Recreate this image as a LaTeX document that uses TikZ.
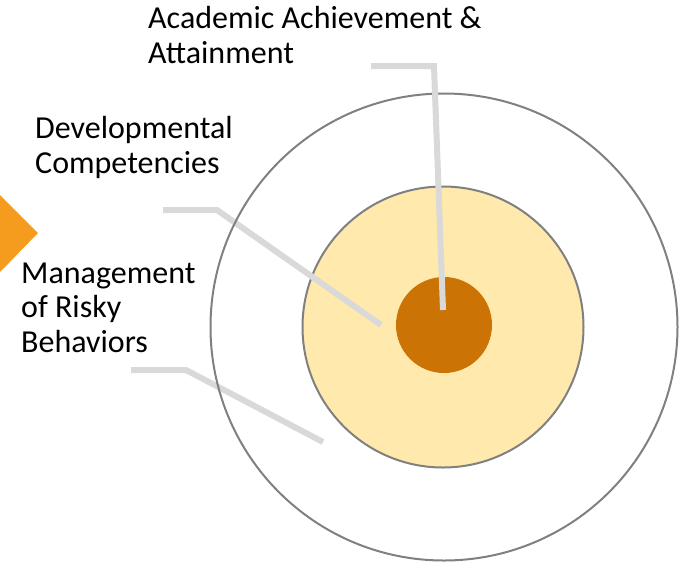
\documentclass[tikz,border=0pt]{standalone}
\usepackage{fontspec}
\setmainfont{Carlito}
\definecolor{ringgray}{HTML}{808080}
\definecolor{leadgray}{HTML}{D9D9D9}
\definecolor{palegold}{HTML}{FFE9AD}
\definecolor{darkgold}{HTML}{CC7306}
\definecolor{chevron}{HTML}{F59B1E}
\begin{document}
\begin{tikzpicture}[x=1pt,y=-1pt,
  ring/.style={circle, inner sep=0pt, outer sep=0pt, draw=ringgray, line width=2pt},
  leader/.style={draw=leadgray, line width=6pt},
  lbl/.style={anchor=base west, align=left, inner sep=0pt, font=\fontsize{32}{34.5}\selectfont}]
\useasboundingbox (0,0) rectangle (683,563);
\fill[chevron] (0,195) -- (38,233) -- (0,272) -- cycle;
\node[ring, fill=palegold, minimum size=281pt] (mid) at (443,327){};
\node[circle, inner sep=0pt, fill=darkgold, minimum size=96pt] (core) at (444,325){};
\coordinate (devA) at (163,210);
\coordinate (devB) at (217,210);
\coordinate (devC) at (381,325);
\coordinate (manA) at (131,370);
\coordinate (manB) at (186,370);
\coordinate (manC) at (323,442);
\draw[leader](devA) -- (devB) -- (devC);
\draw[leader](manA) -- (manB) -- (manC);
\node[ring, minimum size=467pt] (outer) at (444,327){};
\coordinate (acaA) at (371,66);
\coordinate (acaB) at (434,66);
\coordinate (acaC) at (443,310);
\draw[leader](acaA) -- (acaB) -- (acaC);
% base anchor sits on the last line
\node[lbl] (aca) at (148,63){Academic Achievement \&\\Attainment};
\node[lbl] (dev) at (35,173){Developmental\\Competencies};
\node[lbl] (man) at (21,352){Management\\of Risky\\Behaviors};
\end{tikzpicture}
\end{document}
